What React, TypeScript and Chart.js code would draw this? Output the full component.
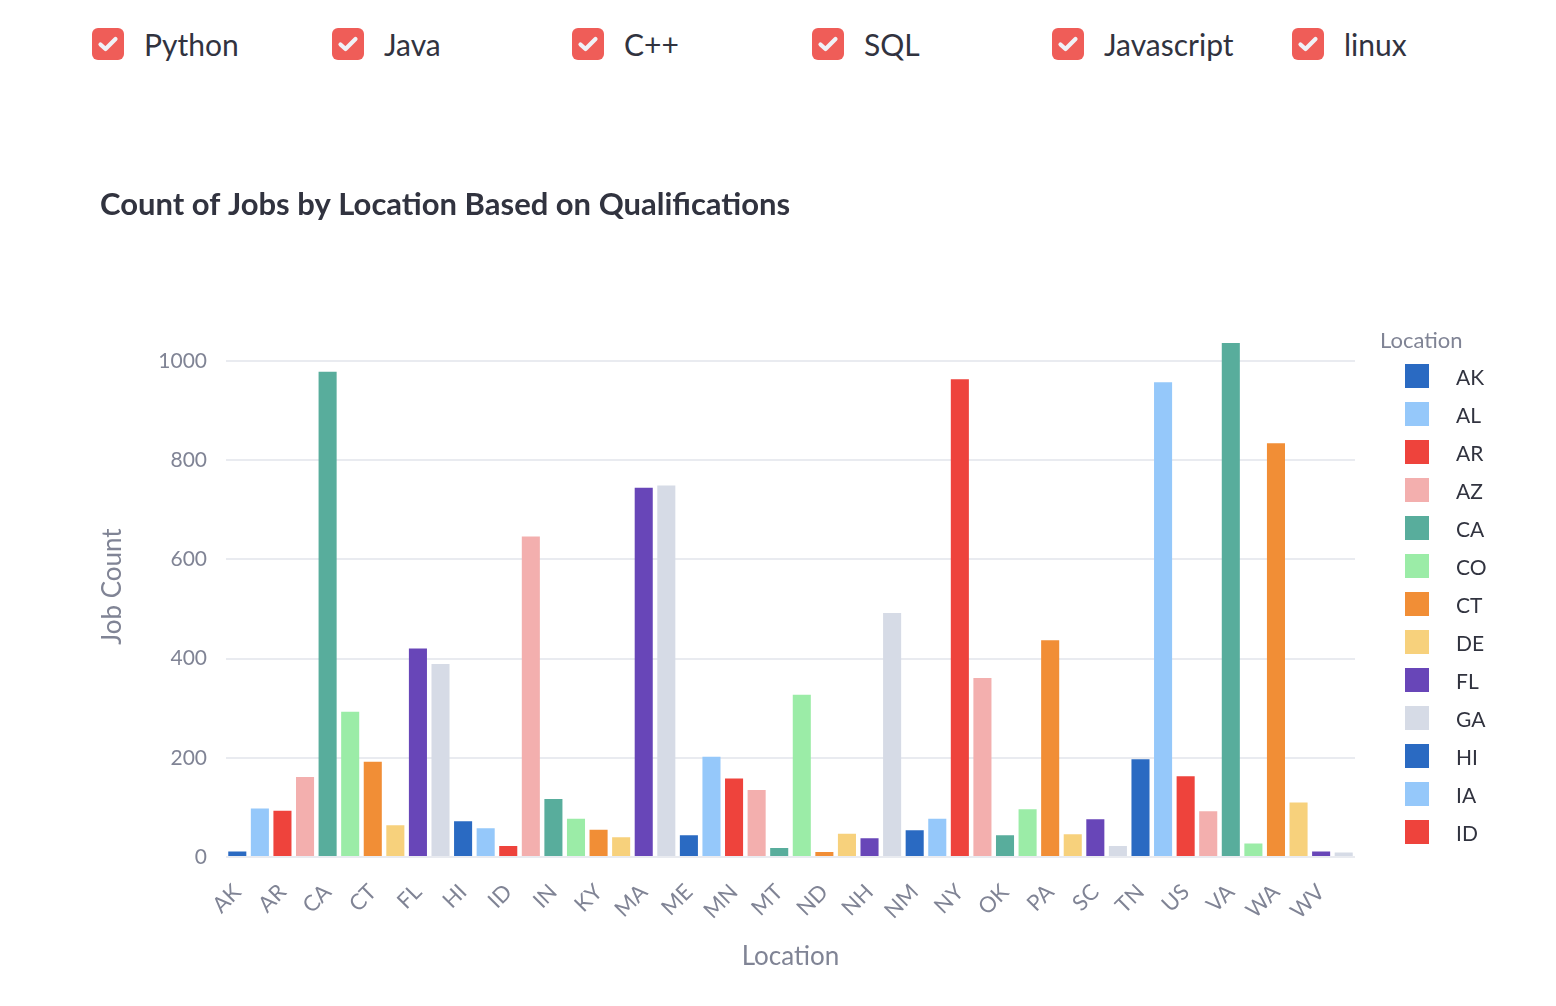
import React, { useEffect, useRef } from 'react';
import { Chart, registerables } from 'chart.js';

Chart.register(...registerables);

const LOCATIONS = ['AK','AL','AR','AZ','CA','CO','CT','DE','FL','GA','HI','IA','ID','IL','IN','KS','KY','LA','MA','MD','ME','MI','MN','MO','MT','NC','ND','NE','NH','NJ','NM','NV','NY','OH','OK','OR','PA','RI','SC','SD','TN','TX','US','UT','VA','VT','WA','WI','WV','WY'];
const JOB_COUNTS = [11,98,93,161,978,293,192,64,420,389,72,58,22,646,117,77,55,40,744,749,44,202,158,135,18,327,10,47,38,492,54,77,963,361,44,96,437,46,76,22,197,957,163,92,1036,27,834,110,11,9];
const PALETTE = ['#2a6ac2','#95c8fa','#ee433c','#f3afae','#58ad9c','#9beca7','#f18e36','#f7d17c','#6846b8','#d6dbe6'];
const QUALIFICATIONS = ['Python','Java','C++','SQL','Javascript','linux'];
const Y_TICKS = [0, 200, 400, 600, 800, 1000];
const LEGEND_SHOWN = 13;

const FONT = 'Lato, "Source Sans Pro", "Noto Sans", sans-serif';
const TEXT = '#31333f';
const MUTED = '#808495';

function CheckBox({ label, left }: { label: string; left: number }) {
  return (
    <div style={{ position: 'absolute', left, top: 28, height: 32, display: 'flex', alignItems: 'center' }}>
      <div style={{ width: 32, height: 32, borderRadius: 6, background: '#ef5d58', display: 'flex', alignItems: 'center', justifyContent: 'center' }}>
        <svg width="24" height="24" viewBox="0 0 24 24">
          <polyline points="4.5,12.5 9.5,17 19.5,7" fill="none" stroke="#f0f2f6" strokeWidth="4.2" strokeLinecap="round" strokeLinejoin="round" />
        </svg>
      </div>
      <span style={{ marginLeft: 20, fontFamily: FONT, fontSize: 30, color: TEXT, lineHeight: '32px', whiteSpace: 'nowrap' }}>{label}</span>
    </div>
  );
}

export default function App() {
  const ref = useRef<HTMLCanvasElement | null>(null);

  useEffect(() => {
    if (!ref.current) return;
    const colors = LOCATIONS.map((_, i) => PALETTE[i % PALETTE.length]);
    const chart = new Chart(ref.current, {
      type: 'bar',
      data: {
        labels: LOCATIONS,
        datasets: [{
          label: 'Job Count',
          data: JOB_COUNTS,
          backgroundColor: colors,
          borderWidth: 0,
          categoryPercentage: 1,
          barPercentage: 0.8,
        }],
      },
      options: {
        responsive: false,
        animation: false,
        devicePixelRatio: 1,
        layout: { padding: { left: 100, right: 201, top: 0, bottom: 36 } },
        plugins: {
          legend: { display: false },
          tooltip: { enabled: false },
          title: {
            display: true,
            text: 'Count of Jobs by Location Based on Qualifications',
            align: 'start',
            color: TEXT,
            font: { family: FONT, size: 31, weight: 'bold' },
            padding: { top: 26, bottom: 93 },
          },
        },
        scales: {
          x: {
            grid: { display: false },
            border: { display: false },
            ticks: {
              autoSkip: false,
              minRotation: 45,
              maxRotation: 45,
              color: MUTED,
              padding: 14,
              font: { family: FONT, size: 22 },
              callback: (_v: any, i: number) => (i % 2 === 0 ? LOCATIONS[i] : ''),
            },
            title: { display: true, text: 'Location', color: MUTED, padding: 0, font: { family: FONT, size: 26, lineHeight: 1 } },
            afterFit: (s: any) => { s.height = 113; },
          },
          y: {
            min: 0,
            max: 1090,
            grid: { color: '#e9ebf0', lineWidth: 2, drawTicks: false },
            border: { display: false },
            ticks: {
              stepSize: 200,
              color: MUTED,
              padding: 19,
              font: { family: FONT, size: 21 },
              callback: (v: any) => String(v),
            },
            afterBuildTicks: (s: any) => { s.ticks = Y_TICKS.map((v) => ({ value: v })); },
            title: { display: true, text: 'Job Count', color: MUTED, padding: 0, font: { family: FONT, size: 26, lineHeight: 1 } },
            afterFit: (s: any) => { s.width = 126; },
          },
        },
      },
    });
    return () => chart.destroy();
  }, []);

  return (
    <div>
      {QUALIFICATIONS.map((q, i) => (
        <CheckBox key={q} label={q} left={92 + 240 * i} />
      ))}
      <canvas ref={ref} width={1556} height={846} style={{ position: 'absolute', left: 0, top: 160, width: 1556, height: 846 }} />
      <div style={{ position: 'absolute', left: 1380, top: 326, fontFamily: FONT, fontSize: 22, color: MUTED, lineHeight: '28px' }}>Location</div>
      {LOCATIONS.slice(0, LEGEND_SHOWN).map((loc, i) => (
        <div key={loc} style={{ position: 'absolute', left: 1405, top: 364 + i * 38, height: 24, display: 'flex', alignItems: 'center' }}>
          <div style={{ width: 24, height: 24, background: PALETTE[i % PALETTE.length] }} />
          <span style={{ marginLeft: 27, fontFamily: FONT, fontSize: 21, color: TEXT, lineHeight: '24px', position: 'relative', top: 1 }}>{loc}</span>
        </div>
      ))}
    </div>
  );
}
